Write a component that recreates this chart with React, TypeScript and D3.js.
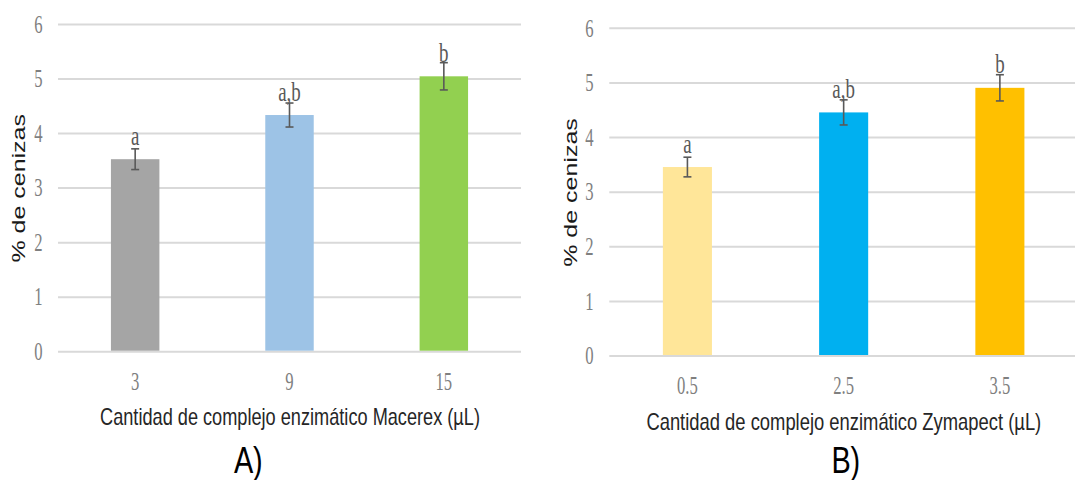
import React from "react";
import * as d3 from "d3";

// Panel A: Macerex
const categoriesA = ["3", "9", "15"];
const valuesA = [3.53, 4.34, 5.05];
const errorsA = [0.19, 0.22, 0.25];
const lettersA = ["a", "a,b", "b"];
const colorsA = ["#a5a5a5", "#9dc3e6", "#92d050"];

// Panel B: Zymapect
const categoriesB = ["0.5", "2.5", "3.5"];
const valuesB = [3.46, 4.46, 4.91];
const errorsB = [0.18, 0.23, 0.24];
const lettersB = ["a", "a,b", "b"];
const colorsB = ["#ffe699", "#00b0f0", "#ffc000"];

const yTicks = [0, 1, 2, 3, 4, 5, 6];

const SERIF = "'Liberation Serif', 'Times New Roman', serif";
const SANS = "'Liberation Sans', Arial, sans-serif";

type PanelProps = {
  categories: string[];
  values: number[];
  errors: number[];
  letters: string[];
  colors: string[];
  x0: number;
  x1: number;
  yBottom: number;
  yTop: number;
  tickX: number;
  xTickBaseline: number;
  title: string;
  titleX: number;
  titleY: number;
  titleScale: number;
  yTitleX: number;
  yTitleY: number;
  tag: string;
  tagX: number;
  tagY: number;
};

function Panel(p: PanelProps) {
  const x = d3
    .scaleBand<string>()
    .domain(p.categories)
    .range([p.x0, p.x1])
    .paddingInner(0.686)
    .paddingOuter(0.343);
  const y = d3.scaleLinear().domain([0, 6]).range([p.yBottom, p.yTop]);
  const bw = x.bandwidth();
  const cap = 4;

  return (
    <g>
      {/* horizontal gridlines */}
      {yTicks.map((t) => (
        <line
          key={"g" + t}
          x1={p.x0}
          x2={p.x1}
          y1={y(t)}
          y2={y(t)}
          stroke="#d9d9d9"
          strokeWidth={2}
        />
      ))}
      {/* y tick labels */}
      {yTicks.map((t) => (
        <text
          key={"yt" + t}
          transform={`translate(${p.tickX},${y(t) + 8.2}) scale(0.68,1)`}
          textAnchor="middle"
          fontFamily={SERIF}
          fontSize={24.5}
          fill="#7f7f7f"
        >
          {t}
        </text>
      ))}
      {/* bars */}
      {p.categories.map((c, i) => (
        <rect
          key={"b" + c}
          x={x(c)}
          y={y(p.values[i])}
          width={bw}
          height={y(0) - y(p.values[i]) - 1}
          fill={p.colors[i]}
        />
      ))}
      {/* error bars */}
      {p.categories.map((c, i) => {
        const cx = (x(c) as number) + bw / 2;
        const hi = y(p.values[i] + p.errors[i]);
        const lo = y(p.values[i] - p.errors[i]);
        return (
          <g key={"e" + c} stroke="#595959" strokeWidth={1.6}>
            <line x1={cx} x2={cx} y1={hi} y2={lo} />
            <line x1={cx - cap} x2={cx + cap} y1={hi} y2={hi} />
            <line x1={cx - cap} x2={cx + cap} y1={lo} y2={lo} />
          </g>
        );
      })}
      {/* significance letters */}
      {p.categories.map((c, i) => (
        <text
          key={"l" + c}
          transform={`translate(${(x(c) as number) + bw / 2},${y(p.values[i]) - 14.5}) scale(0.7,1)`}
          textAnchor="middle"
          fontFamily={SERIF}
          fontSize={27}
          fill="#595959"
        >
          {p.letters[i]}
        </text>
      ))}
      {/* x tick labels */}
      {p.categories.map((c) => (
        <text
          key={"xt" + c}
          transform={`translate(${(x(c) as number) + bw / 2},${p.xTickBaseline}) scale(0.68,1)`}
          textAnchor="middle"
          fontFamily={SERIF}
          fontSize={24.5}
          fill="#7f7f7f"
        >
          {c}
        </text>
      ))}
      {/* x axis title */}
      <text
        transform={`translate(${p.titleX},${p.titleY}) scale(${p.titleScale},1)`}
        textAnchor="middle"
        fontFamily={SANS}
        fontSize={23}
        fill="#262626"
      >
        {p.title}
      </text>
      {/* y axis title */}
      <text
        transform={`translate(${p.yTitleX},${p.yTitleY}) scale(0.75,1) rotate(-90)`}
        textAnchor="middle"
        fontFamily={SANS}
        fontSize={25}
        fill="#1a1a1a"
      >
        % de cenizas
      </text>
      {/* panel tag */}
      <text
        transform={`translate(${p.tagX},${p.tagY}) scale(0.78,1)`}
        textAnchor="middle"
        fontFamily={SANS}
        fontSize={37}
        fill="#000"
      >
        {p.tag}
      </text>
    </g>
  );
}

export default function App() {
  return (
    <svg
      width={1075}
      height={480}
      style={{ position: "absolute", left: 0, top: 0, background: "#fff" }}
    >
      <Panel
        categories={categoriesA}
        values={valuesA}
        errors={errorsA}
        letters={lettersA}
        colors={colorsA}
        x0={58}
        x1={521}
        yBottom={351.7}
        yTop={24.5}
        tickX={38.5}
        xTickBaseline={389.5}
        title="Cantidad de complejo enzimático Macerex (µL)"
        titleX={290}
        titleY={425}
        titleScale={0.79}
        yTitleX={25}
        yTitleY={188.3}
        tag="A)"
        tagX={248.3}
        tagY={473.3}
      />
      <Panel
        categories={categoriesB}
        values={valuesB}
        errors={errorsB}
        letters={lettersB}
        colors={colorsB}
        x0={609.3}
        x1={1078}
        yBottom={356}
        yTop={28.3}
        tickX={589.3}
        xTickBaseline={394}
        title="Cantidad de complejo enzimático Zymapect (µL)"
        titleX={843.8}
        titleY={429.5}
        titleScale={0.8}
        yTitleX={576.7}
        yTitleY={192.5}
        tag="B)"
        tagX={845.8}
        tagY={473.3}
      />
    </svg>
  );
}
